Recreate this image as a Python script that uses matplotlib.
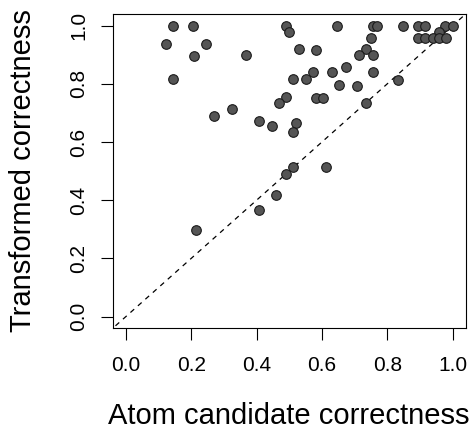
import matplotlib
matplotlib.use("Agg")
import matplotlib.pyplot as plt

atom_correctness = [0.146, 0.205, 0.123, 0.246, 0.210, 0.367, 0.144, 0.490, 0.500, 0.530,
                    0.511, 0.490, 0.470, 0.326, 0.271, 0.409, 0.448, 0.521, 0.511, 0.511,
                    0.645, 0.757, 0.769, 0.849, 0.895, 0.917, 0.977, 1.000, 0.959, 0.895,
                    0.917, 0.939, 0.959, 0.980, 0.749, 0.582, 0.735, 0.713, 0.755, 0.674,
                    0.632, 0.755, 0.572, 0.550, 0.653, 0.708, 0.832, 0.582, 0.604, 0.735,
                    0.613, 0.490, 0.460, 0.409, 0.214]
transformed_correctness = [1.000, 1.000, 0.938, 0.938, 0.895, 0.900, 0.816, 1.000, 0.978, 0.919,
                           0.816, 0.754, 0.735, 0.715, 0.688, 0.674, 0.654, 0.667, 0.633, 0.514,
                           1.000, 1.000, 1.000, 1.000, 1.000, 1.000, 1.000, 1.000, 0.978, 0.958,
                           0.958, 0.958, 0.958, 0.958, 0.958, 0.917, 0.919, 0.898, 0.898, 0.857,
                           0.839, 0.839, 0.839, 0.816, 0.797, 0.792, 0.813, 0.751, 0.751, 0.734,
                           0.514, 0.491, 0.418, 0.368, 0.299]
tick_values = [0.0, 0.2, 0.4, 0.6, 0.8, 1.0]
tick_labels = ["0.0", "0.2", "0.4", "0.6", "0.8", "1.0"]

plt.rcParams['font.family'] = ['Liberation Sans', 'DejaVu Sans']

W, H = 477, 430
fig = plt.figure(figsize=(W / 100, H / 100), dpi=100)
ax = fig.add_axes([112.7 / W, 1 - 328.3 / H, (465.7 - 112.7) / W, (328.3 - 14) / H])

ax.plot([-0.1, 1.1], [-0.1, 1.1], color='black', linestyle=(0, (4, 4)), linewidth=0.9, zorder=1)
ax.scatter(atom_correctness, transformed_correctness, s=48, facecolor='#555555',
           edgecolor='#1a1a1a', linewidth=0.8, zorder=3)

ax.set_xlim(-0.04, 1.04)
ax.set_ylim(-0.04, 1.04)
ax.set_xticks(tick_values)
ax.set_xticklabels(tick_labels)
ax.set_yticks(tick_values)
ax.set_yticklabels(tick_labels, rotation=90, va='center')
ax.tick_params(axis='both', direction='out', length=8.6, width=0.8, labelsize=15, color='black')
ax.tick_params(axis='x', pad=11)
ax.tick_params(axis='y', pad=9)
for sp in ax.spines.values():
    sp.set_linewidth(0.8)

fig.text(289 / W, 1 - 424 / H, "Atom candidate correctness", fontsize=21, ha='center', va='baseline')
fig.text(23 / W, 1 - 171 / H, "Transformed correctness", fontsize=21, ha='center', va='center', rotation=90)

fig.savefig("out.png", dpi=100)
